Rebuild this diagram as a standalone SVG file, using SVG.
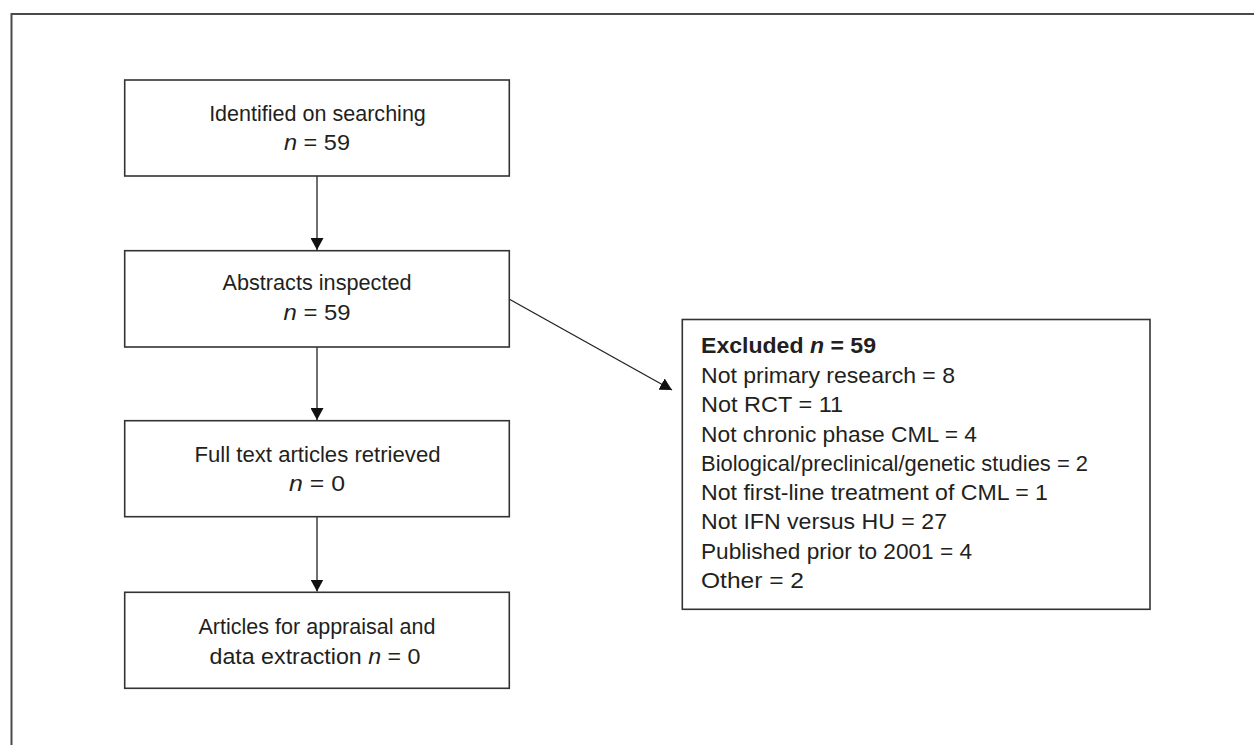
<svg xmlns="http://www.w3.org/2000/svg" width="1254" height="745" viewBox="0 0 1254 745">
<style>
.frame{fill:none;stroke:#4a4a4a;stroke-width:2}
.box{fill:#fff;stroke:#333;stroke-width:1.6}
.conn{fill:none;stroke:#222;stroke-width:1.3}
text{font-family:"Liberation Sans",Arial,sans-serif;font-size:22px;fill:#231f20}
.c{text-anchor:middle}
.b{font-weight:bold}
.i{font-style:italic}
</style>
<defs>
<marker id="ah" markerUnits="userSpaceOnUse" markerWidth="13" markerHeight="13" refX="12" refY="6.5" orient="auto">
<path d="M0,0 L12,6.5 L0,13 Z" fill="#111"/>
</marker>
</defs>
<rect width="1254" height="745" fill="#fff"/>
<path class="frame" d="M11.5,745 L11.5,14 L1254,14"/>
<g id="connectors">
<line class="conn" x1="317" y1="176" x2="317" y2="250" marker-end="url(#ah)"/>
<line class="conn" x1="317" y1="347" x2="317" y2="420" marker-end="url(#ah)"/>
<line class="conn" x1="317" y1="517" x2="317" y2="591.5" marker-end="url(#ah)"/>
<line class="conn" x1="509" y1="299" x2="672" y2="390" marker-end="url(#ah)"/>
</g>
<g id="n1">
<rect class="box" x="124.7" y="80" width="384.6" height="96"/>
<text class="c" x="317.5" y="120.5" textLength="216.7" lengthAdjust="spacingAndGlyphs">Identified on searching</text>
<text class="c" x="317" y="150" textLength="66" lengthAdjust="spacingAndGlyphs"><tspan class="i">n</tspan> = 59</text>
</g>
<g id="n2">
<rect class="box" x="124.7" y="250.7" width="384.6" height="96.3"/>
<text class="c" x="317" y="290" textLength="189" lengthAdjust="spacingAndGlyphs">Abstracts inspected</text>
<text class="c" x="317" y="319.5" textLength="67" lengthAdjust="spacingAndGlyphs"><tspan class="i">n</tspan> = 59</text>
</g>
<g id="n3">
<rect class="box" x="124.7" y="420.7" width="384.6" height="96"/>
<text class="c" x="317.5" y="461.5" textLength="246" lengthAdjust="spacingAndGlyphs">Full text articles retrieved</text>
<text class="c" x="317" y="490.5" textLength="56" lengthAdjust="spacingAndGlyphs"><tspan class="i">n</tspan> = 0</text>
</g>
<g id="n4">
<rect class="box" x="124.7" y="592.3" width="384.6" height="96"/>
<text class="c" x="317" y="634" textLength="237" lengthAdjust="spacingAndGlyphs">Articles for appraisal and</text>
<text class="c" x="315" y="663.5" textLength="211" lengthAdjust="spacingAndGlyphs">data extraction <tspan class="i">n</tspan> = 0</text>
</g>
<g id="excluded">
<rect class="box" x="682.3" y="319.5" width="467.7" height="289.8"/>
<text class="b" x="701" y="353.3" textLength="175" lengthAdjust="spacingAndGlyphs">Excluded <tspan class="i">n</tspan> = 59</text>
<text x="701" y="382.7" textLength="254" lengthAdjust="spacingAndGlyphs">Not primary research = 8</text>
<text x="701" y="412" textLength="142" lengthAdjust="spacingAndGlyphs">Not RCT = 11</text>
<text x="701" y="441.5" textLength="276" lengthAdjust="spacingAndGlyphs">Not chronic phase CML = 4</text>
<text x="701" y="470.7" textLength="387" lengthAdjust="spacingAndGlyphs">Biological/preclinical/genetic studies = 2</text>
<text x="701" y="500" textLength="347" lengthAdjust="spacingAndGlyphs">Not first-line treatment of CML = 1</text>
<text x="701" y="529.3" textLength="246" lengthAdjust="spacingAndGlyphs">Not IFN versus HU = 27</text>
<text x="701" y="558.5" textLength="271" lengthAdjust="spacingAndGlyphs">Published prior to 2001 = 4</text>
<text x="701" y="588" textLength="103" lengthAdjust="spacingAndGlyphs">Other = 2</text>
</g>
</svg>
